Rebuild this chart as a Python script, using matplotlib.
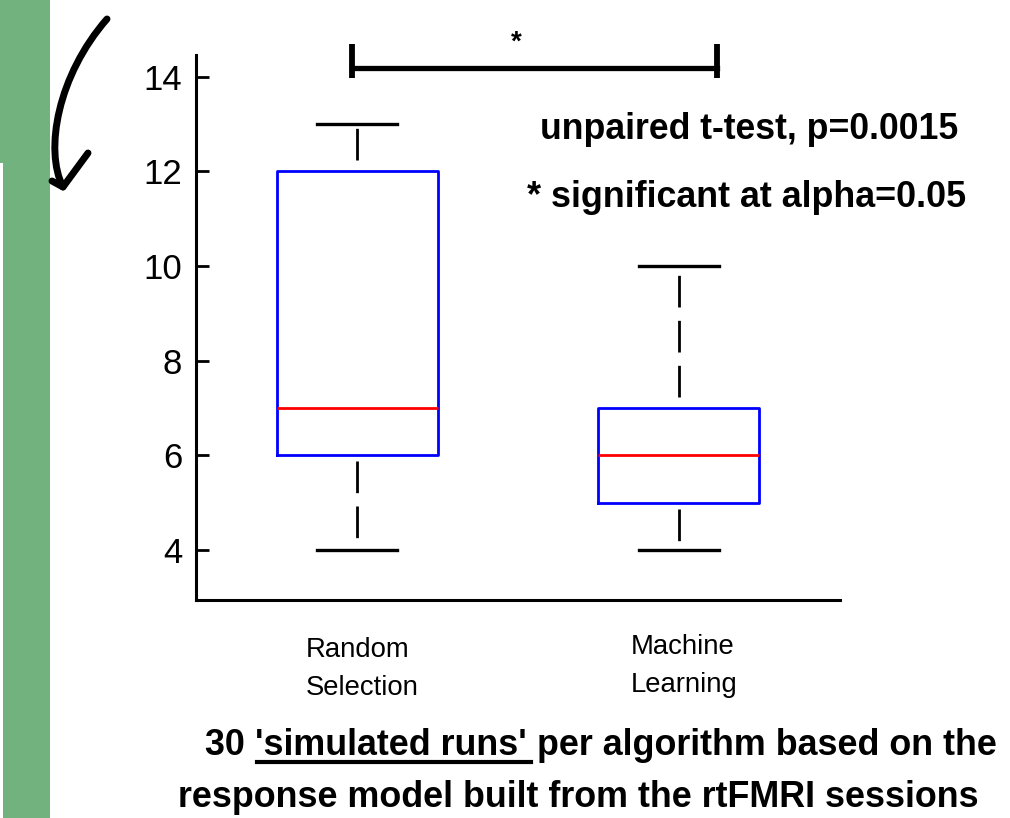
import matplotlib
matplotlib.use("Agg")
import matplotlib.pyplot as plt
from matplotlib.path import Path
from matplotlib.patches import PathPatch
from matplotlib.lines import Line2D

# ---------------- data ----------------
categories = ["Random\nSelection", "Machine\nLearning"]
whislo = [4, 4]
q1 = [6, 5]
median = [7, 6]
q3 = [12, 7]
whishi = [13, 10]
yticks = [4, 6, 8, 10, 12, 14]
pvalue_text = "unpaired t-test, p=0.0015"
alpha_text = "* significant at alpha=0.05"
caption1_pre = "30 "
caption1_ul = "'simulated runs' "
caption1_post = "per algorithm based on the"
caption2 = "response model built from the rtFMRI sessions"

plt.rcParams['font.family'] = ['Liberation Sans', 'DejaVu Sans']
plt.rcParams['lines.scale_dashes'] = False

W, H = 1010, 818
fig = plt.figure(figsize=(W / 100, H / 100), dpi=100)
fig.patch.set_facecolor('white')

def fx(x):
    return x / W

def fy(y):
    return 1 - y / H

# green side bar
fig.patches.append(plt.Rectangle((0, fy(163)), fx(50), 1 - fy(163), transform=fig.transFigure,
                                 facecolor='#71B27E', edgecolor='none'))
fig.patches.append(plt.Rectangle((fx(3), 0), fx(47), fy(163), transform=fig.transFigure,
                                 facecolor='#71B27E', edgecolor='none'))

# hand-drawn arrow
verts = [(107, 19), (58, 75), (44, 150), (63, 187), (88, 153)]
codes = [Path.MOVETO, Path.CURVE4, Path.CURVE4, Path.CURVE4, Path.LINETO]
p = Path([(fx(x), fy(y)) for x, y in verts], codes)
fig.patches.append(PathPatch(p, transform=fig.transFigure, facecolor='none',
                             edgecolor='black', lw=5, capstyle='round', joinstyle='round'))
fig.lines.append(Line2D([fx(63), fx(52)], [fy(187), fy(181)], transform=fig.transFigure,
                        color='black', lw=5, solid_capstyle='round'))

# axes
ax = fig.add_axes([fx(196), fy(600), fx(840) - fx(196), fy(55) - fy(600)])
positions = [1, 2]
stats = []
for i in range(len(categories)):
    stats.append(dict(med=median[i], q1=q1[i], q3=q3[i], whislo=whislo[i],
                      whishi=whishi[i], fliers=[], label=categories[i]))

res = ax.bxp(stats, positions=positions, widths=0.5, capwidths=0.25, showfliers=False,
             boxprops=dict(color='#0000FF', lw=2.0),
             medianprops=dict(color='#FF0000', lw=2.0),
             whiskerprops=dict(color='black', lw=2.0),
             capprops=dict(color='black', lw=2.4))
on, off = 22.8, 9.6
for k, wl in enumerate(res['whiskers']):
    gap_px = 6 if k % 2 == 0 else 11
    offset = on + off - gap_px * 0.72
    wl.set_linestyle((offset, (on, off)))
    wl.set_dash_capstyle('butt')

ax.set_xlim(0.5, 2.5)
ax.set_ylim(2.94, 14.46)
ax.set_yticks(yticks)
ax.set_yticklabels([str(t) for t in yticks])
ax.set_xticks([])
ax.tick_params(axis='y', direction='in', length=9, width=2, labelsize=25, pad=10)
for s in ['top', 'right']:
    ax.spines[s].set_visible(False)
for s in ['left', 'bottom']:
    ax.spines[s].set_linewidth(2.2)

# category labels under the axis
label_dy = [-26.5, -24.5]
for pos, lab, dy in zip(positions, categories, label_dy):
    ax.annotate(lab, xy=(pos, 0), xycoords=('data', 'axes fraction'),
                xytext=(3.6, dy), textcoords='offset points', ha='center', va='top',
                multialignment='left', linespacing=1.62, fontsize=19.8, annotation_clip=False)

# significance bracket
bx0, bx1, by = fx(352), fx(717), fy(68)
fig.lines.append(Line2D([bx0, bx1], [by, by], transform=fig.transFigure, color='black', lw=3.8))
for bx in (bx0, bx1):
    fig.lines.append(Line2D([bx, bx], [fy(44), fy(78)], transform=fig.transFigure,
                            color='black', lw=4.2, solid_capstyle='butt'))
fig.text(fx(516), fy(50), "*", ha='center', va='baseline', fontsize=20, fontweight='bold')

fig.text(fx(540), fy(139), pvalue_text, ha='left', va='baseline', fontsize=25.7, fontweight='bold')
fig.text(fx(527), fy(207), alpha_text, ha='left', va='baseline', fontsize=25.8, fontweight='bold')

# caption with underline
cap_kw = dict(ha='left', va='baseline', fontsize=25.8, fontweight='bold')
x0 = fx(205)
fig.canvas.draw()
r = fig.canvas.get_renderer()
t_pre = fig.text(x0, fy(755), caption1_pre, **cap_kw)
w_pre = t_pre.get_window_extent(r).width
t_ul = fig.text(x0 + w_pre / W, fy(755), caption1_ul, **cap_kw)
w_ul = t_ul.get_window_extent(r).width
fig.text(x0 + (w_pre + w_ul) / W, fy(755), caption1_post, **cap_kw)
fig.lines.append(Line2D([x0 + (w_pre + 2) / W, x0 + (w_pre + w_ul - 6) / W], [fy(762), fy(762)],
                        transform=fig.transFigure, color='black', lw=3.0))
fig.text(fx(178), fy(807), caption2, **cap_kw)

fig.savefig("out.png", dpi=100)
